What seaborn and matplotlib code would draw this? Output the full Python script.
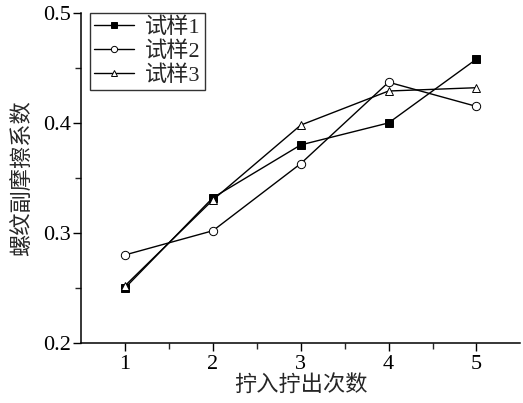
import pandas as pd
import seaborn as sns
import matplotlib.pyplot as plt

# === DATA ===
cycles = [1, 2, 3, 4, 5]
sample1 = [0.250, 0.332, 0.380, 0.400, 0.458]
sample2 = [0.280, 0.302, 0.363, 0.437, 0.415]
sample3 = [0.252, 0.330, 0.398, 0.429, 0.432]
names = ['试样1', '试样2', '试样3']

df = pd.DataFrame({
    'cycle': cycles * 3,
    'mu': sample1 + sample2 + sample3,
    'sample': [n for n in names for _ in cycles],
})

sns.set_style('ticks')
plt.rcParams['font.family'] = ['Liberation Serif', 'Noto Sans CJK SC']

fig = plt.figure(figsize=(5.23, 4.03), dpi=100)
ax = fig.add_axes([0.155, 0.149, 0.84, 0.819])

marker_style = {
    '试样1': dict(marker='s', mfc='black', mec='black'),
    '试样2': dict(marker='o', mfc='white', mec='black'),
    '试样3': dict(marker='^', mfc='white', mec='black'),
}
for name in names:
    sub = df[df['sample'] == name]
    st = marker_style[name]
    sns.lineplot(data=sub, x='cycle', y='mu', ax=ax, color='black', lw=1.0,
                 marker=st['marker'], markersize=6, markerfacecolor=st['mfc'],
                 markeredgecolor=st['mec'], markeredgewidth=0.7, label=name)

ax.set_xlim(0.5, 5.5)
ax.set_ylim(0.2, 0.5)
ax.set_xticks(cycles)
ax.set_xticks([1.5, 2.5, 3.5, 4.5], minor=True)
ax.set_yticks([0.2, 0.3, 0.4, 0.5])
ax.set_yticklabels(['0.2', '0.3', '0.4', '0.5'])
ax.set_yticks([0.25, 0.35, 0.45], minor=True)
ax.tick_params(axis='both', which='major', direction='out', length=6, width=1,
               labelsize=16, colors='black')
ax.tick_params(axis='both', which='minor', direction='out', length=4, width=1)
ax.tick_params(axis='x', which='major', pad=3)
ax.tick_params(axis='y', which='major', pad=1.5)
for s in ['left', 'bottom']:
    ax.spines[s].set_linewidth(1.1)
    ax.spines[s].set_color('black')
sns.despine(ax=ax)

ax.set_xlabel('拧入拧出次数', fontsize=16, labelpad=0)
ax.set_ylabel('螺纹副摩擦系数', fontsize=16, labelpad=6)

leg = ax.legend(loc='upper left', bbox_to_anchor=(0.02, 1.0), borderaxespad=0,
                fontsize=16, frameon=True, fancybox=False, edgecolor='black',
                handlelength=1.8, handletextpad=0.5, borderpad=0.2,
                labelspacing=0.15, markerscale=0.75)
leg.get_frame().set_linewidth(1.0)

fig.savefig('out.png', dpi=100)
